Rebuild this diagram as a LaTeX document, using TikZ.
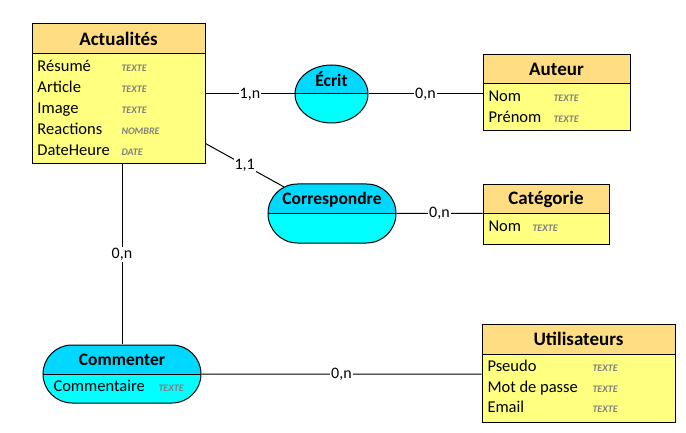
\documentclass[tikz,border=0pt]{standalone}
\usepackage{fontspec}
\setmainfont{Carlito}
\usetikzlibrary{positioning,shapes.misc,shapes.geometric}

\definecolor{colentete}{RGB}{255,221,130}
\definecolor{colcorps}{RGB}{255,255,128}
\definecolor{colhaut}{RGB}{0,216,255}
\definecolor{colbas}{RGB}{0,255,255}
\definecolor{coltype}{RGB}{128,128,128}

\begin{document}
\begin{tikzpicture}[
            x = 1pt, y = -1pt, % pixel grid
            line width = 1pt, % line style
            entete/.style = {draw=black, fill=colentete, inner sep=0pt,
                             font=\fontsize{19}{22}\selectfont\bfseries},
            corps/.style = {draw=black, fill=colcorps, inner sep=0pt},
            assoc/.style = {rounded rectangle, draw=black, fill=colbas, inner sep=0pt,
                            path picture={
                              \fill[colhaut] (path picture bounding box.north west)
                                rectangle (path picture bounding box.east);
                              \draw (path picture bounding box.west)
                                -- (path picture bounding box.east);}},
            titre/.style = {inner sep=0pt, font=\fontsize{17.5}{20}\selectfont\bfseries},
            attr/.style = {anchor=mid west, inner sep=0pt, yshift=-3pt,
                           font=\fontsize{16.5}{19}\selectfont},
            type/.style = {anchor=mid west, inner sep=0pt, yshift=-3pt, text=coltype,
                           font=\fontsize{10}{12}\selectfont\bfseries\itshape},
            card/.style = {fill=white, inner sep=1pt, font=\fontsize{16}{19}\selectfont}
        ]

\useasboundingbox (0,0) rectangle (686,433);

% entites
\node[entete, minimum width=173pt, minimum height=30pt] (Actu) at (118.5,39) {Actualités};
\node[corps, minimum width=173pt, minimum height=110pt] (ActuC) at (118.5,109) {};
\node[attr] (a1) at (37,66) {Résumé};
\node[attr] (a2) at (37,87) {Article};
\node[attr] (a3) at (37,108) {Image};
\node[attr] (a4) at (37,129) {Reactions};
\node[attr] (a5) at (37,150) {DateHeure};
\node[type] (t1) at (121,66) {TEXTE};
\node[type] (t2) at (121,87) {TEXTE};
\node[type] (t3) at (121,108) {TEXTE};
\node[type] (t4) at (121,129) {NOMBRE};
\node[type] (t5) at (121,150) {DATE};

\node[entete, minimum width=147pt, minimum height=29pt] (Aut) at (556.5,69.5) {Auteur};
\node[corps, minimum width=147pt, minimum height=47pt] (AutC) at (556.5,107.5) {};
\node[attr] (b1) at (488,96) {Nom};
\node[attr] (b2) at (488,117) {Prénom};
\node[type] (u1) at (553,96) {TEXTE};
\node[type] (u2) at (553,117) {TEXTE};

\node[entete, minimum width=126pt, minimum height=29pt] (Cat) at (546,199.5) {Catégorie};
\node[corps, minimum width=126pt, minimum height=30pt] (CatC) at (546,229) {};
\node[attr] (c1) at (488,226) {Nom};
\node[type] (v1) at (532,226) {TEXTE};

\node[entete, minimum width=193pt, minimum height=30pt] (Util) at (578.5,339) {Utilisateurs};
\node[corps, minimum width=193pt, minimum height=68pt] (UtilC) at (578.5,388) {};
\node[attr] (d1) at (487,366) {Pseudo};
\node[attr] (d2) at (487,387) {Mot de passe};
\node[attr] (d3) at (487,407) {Email};
\node[type] (w1) at (592,366) {TEXTE};
\node[type] (w2) at (592,387) {TEXTE};
\node[type] (w3) at (592,407) {TEXTE};

% associations
\node[assoc, ellipse, minimum width=73pt, minimum height=58pt] (Ecrit) at (331.5,94) {};
\node[titre] (EcritT) at (331.5,79) {Écrit};

\node[assoc, minimum width=128pt, minimum height=59pt] (Corr) at (332,213.5) {};
\node[titre] (CorrT) at (332,200) {Correspondre};

\node[assoc, minimum width=158pt, minimum height=58pt] (Comm) at (122,374) {};
\node[titre] (CommT) at (122,360) {Commenter};
\node[attr] (e1) at (53,386) {Commentaire};
\node[type] (x1) at (158,386) {TEXTE};

% liens
 \path (ActuC.east |- Ecrit) edge node[card] {1,n} (Ecrit);
 \path (Ecrit) edge node[card] {0,n} (Ecrit -| AutC.west);
 \path ([yshift=21pt]ActuC.south east) edge node[card] {1,1} (Corr);
 \path (Corr) edge node[card] {0,n} (Corr -| CatC.west);
 \path (ActuC.south -| Comm) edge node[card] {0,n} (Comm);
 \path (Comm) edge node[card] {0,n} (Comm -| UtilC.west);
\end{tikzpicture}
\end{document}
